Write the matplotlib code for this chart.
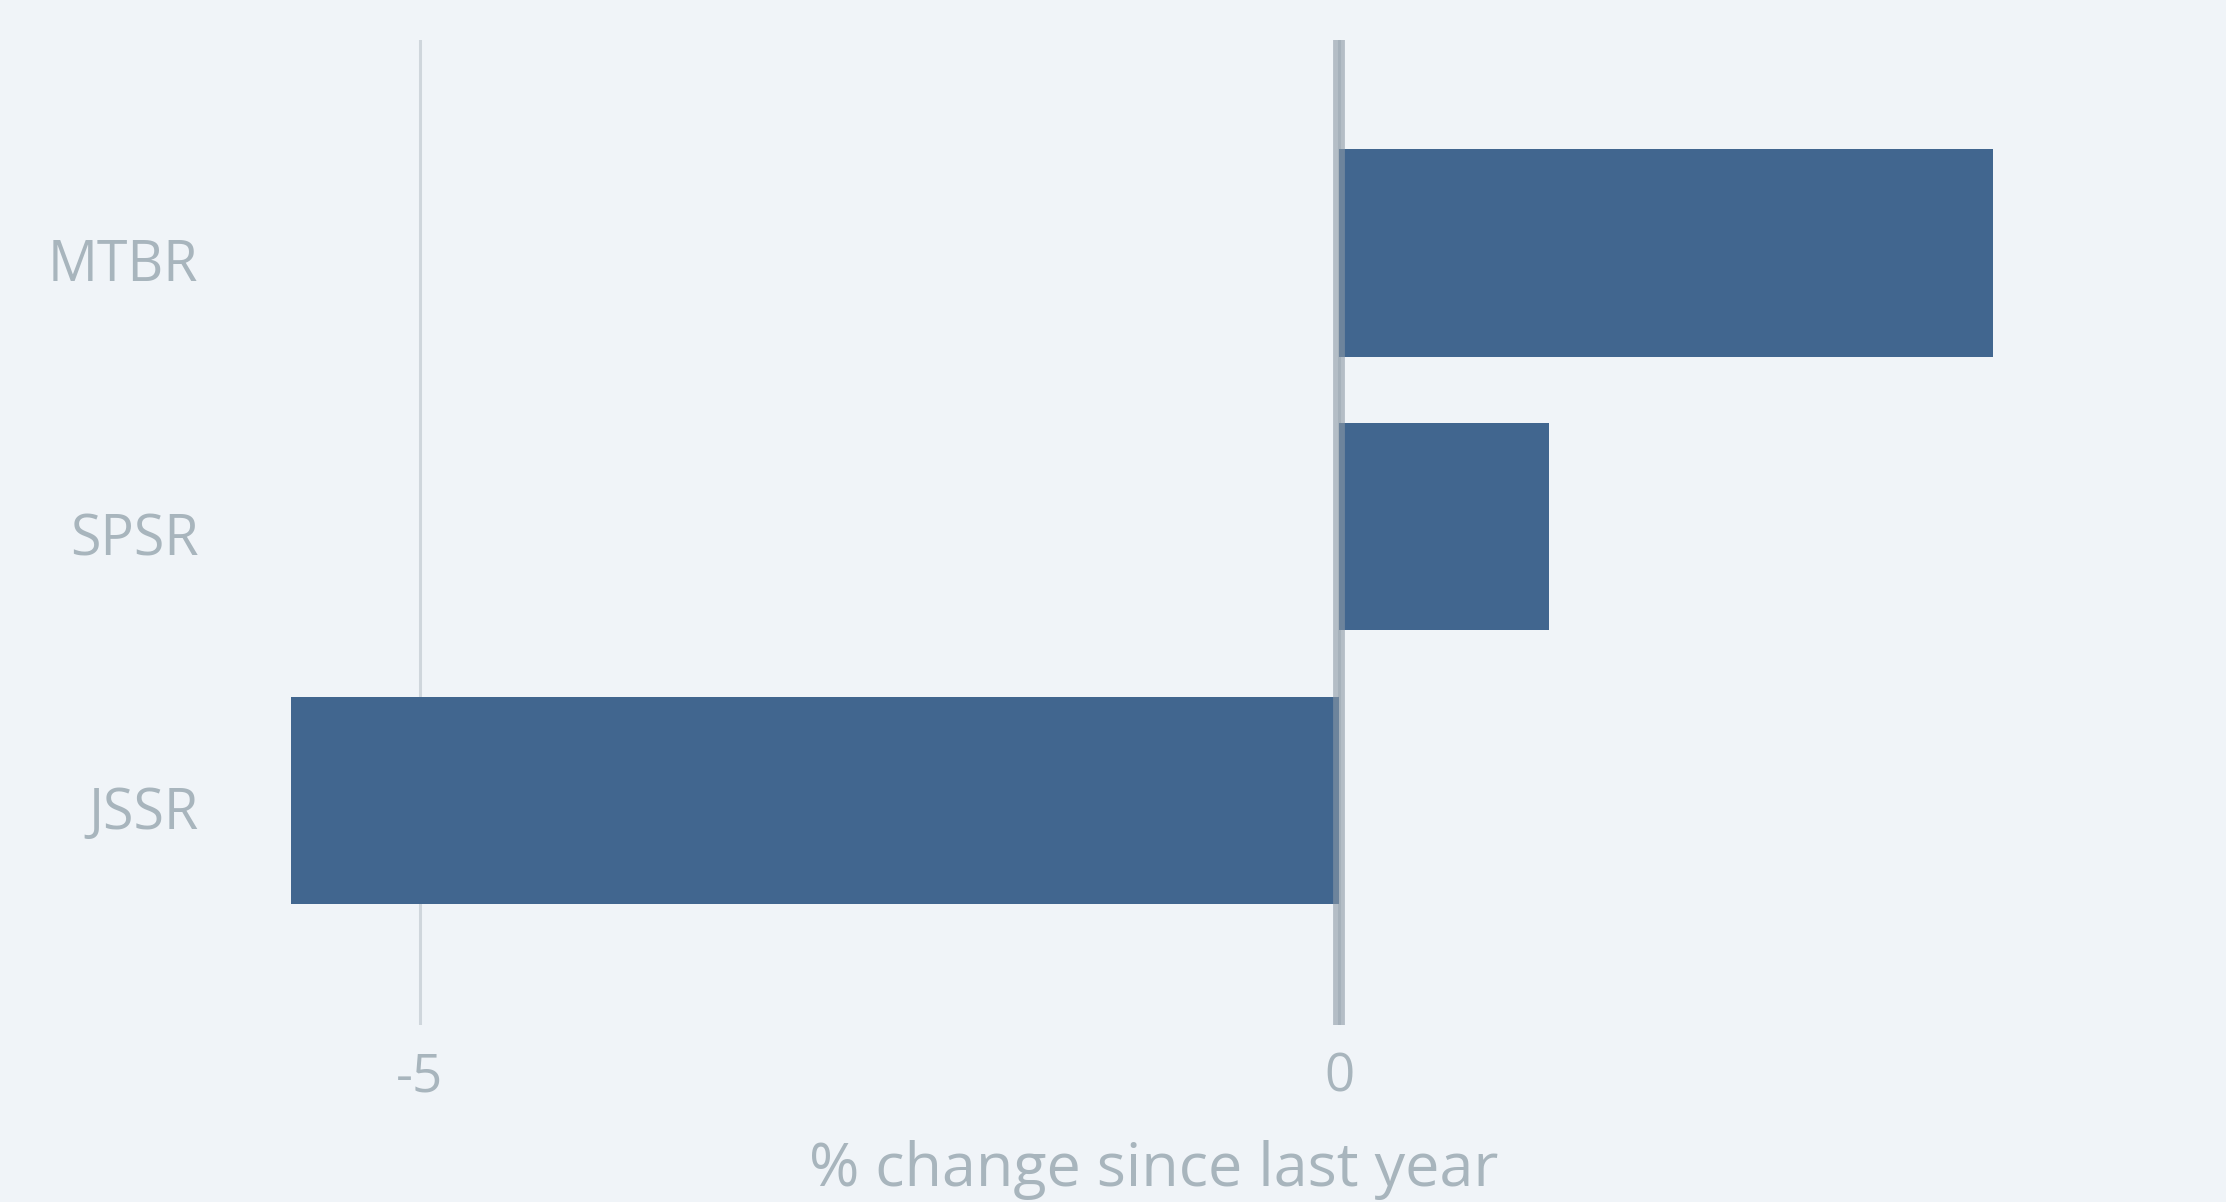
import matplotlib
matplotlib.use("Agg")
import matplotlib.pyplot as plt
from matplotlib.transforms import ScaledTranslation

categories = ["JSSR", "SPSR", "MTBR"]
values = [-5.70, 1.14, 3.56]
xticks = [-5, 0]
xlabel = "% change since last year"

BG = "#f0f4f8"
BAR = "#41668f"
TXT = "#a8b5bd"
GRID = "#cfd6dc"

W, H = 2226, 1202
fig = plt.figure(figsize=(W / 100, H / 100), dpi=100, facecolor=BG)

# pixel geometry of the plot area
x0_px, unit_px = 1339, 183.8
left_px, right_px = 215, 2093
top_px, bot_px = 40, 1025
xlim = ((left_px - x0_px) / unit_px, (right_px - x0_px) / unit_px)

ax = fig.add_axes([left_px / W, 1 - bot_px / H, (right_px - left_px) / W, (bot_px - top_px) / H])
ax.set_facecolor(BG)

ypos = list(range(len(categories)))
ax.barh(ypos, values, height=0.757, color=BAR, zorder=2)
ax.set_xlim(*xlim)
ax.set_ylim(-0.819, 2.777)

ax.set_xticks(xticks)
ax.set_xticklabels([str(t) for t in xticks])
ax.set_yticks(ypos)
ax.set_yticklabels(categories)

for t in xticks:
    ax.axvline(t, color=GRID, lw=2.2, zorder=1)
ax.axvline(0, color="#8c99a6", lw=8.5, alpha=0.6, zorder=3)

for s in ax.spines.values():
    s.set_visible(False)
ax.tick_params(axis="both", length=0, colors=TXT)
ax.tick_params(axis="x", pad=19, labelsize=38)
ax.tick_params(axis="y", pad=12, labelsize=40)
for lab in ax.get_xticklabels() + ax.get_yticklabels():
    lab.set_family("Open Sans")
shift = ScaledTranslation(0, -5 / 72, fig.dpi_scale_trans)
for lab in ax.get_yticklabels():
    lab.set_verticalalignment("center_baseline")
    lab.set_transform(lab.get_transform() + shift)
ax.set_xlabel(xlabel, color=TXT, fontsize=44, family="Open Sans", labelpad=25)

fig.savefig("out.png", dpi=100, facecolor=BG)
